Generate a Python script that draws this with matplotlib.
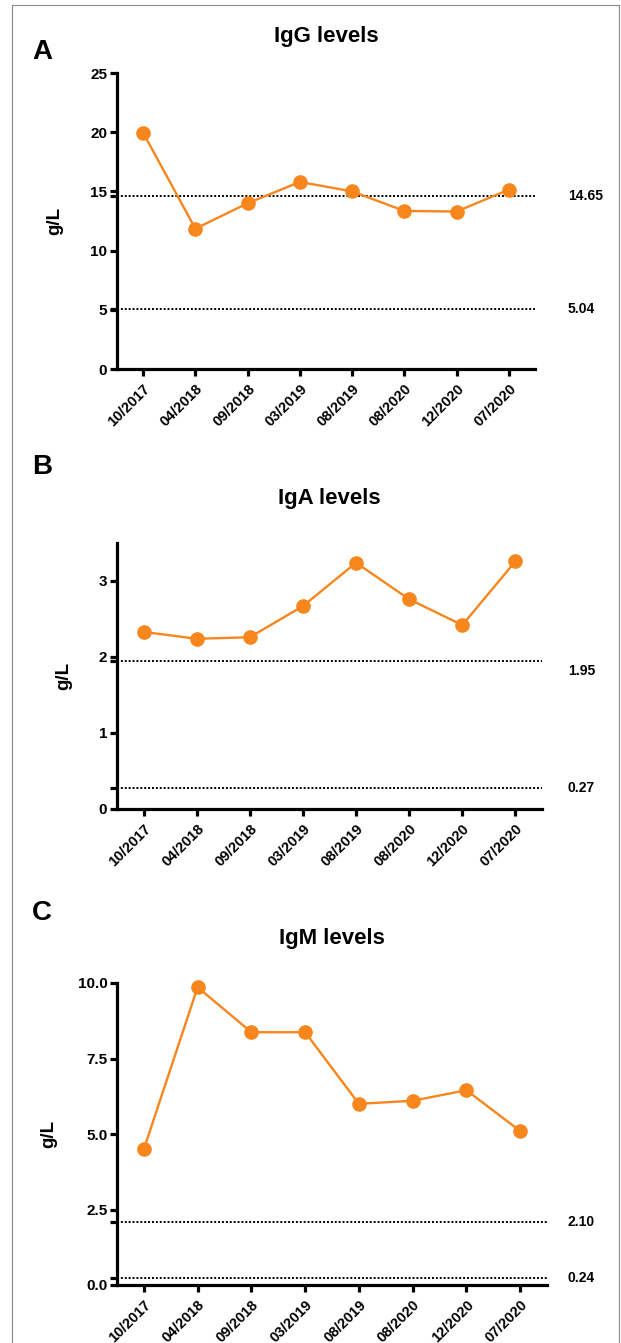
import numpy as np
import matplotlib
matplotlib.use("Agg")
import matplotlib.pyplot as plt
from matplotlib.lines import Line2D
from matplotlib.transforms import blended_transform_factory

plt.rcParams['font.family'] = ['Liberation Sans', 'DejaVu Sans']
plt.rcParams['font.weight'] = 'bold'

dates = ['10/2017', '04/2018', '09/2018', '03/2019', '08/2019', '08/2020', '12/2020', '07/2020']

igg = [19.95, 11.85, 14.0, 15.8, 15.0, 13.35, 13.3, 15.15]
iga = [2.33, 2.24, 2.26, 2.67, 3.24, 2.76, 2.42, 3.26]
igm = [4.5, 9.86, 8.37, 8.37, 6.0, 6.1, 6.45, 5.1]

igg_ref = [14.65, 5.04]
iga_ref = [1.95, 0.27]
igm_ref = [2.10, 0.24]

W, H = 621, 1343
orange = '#F7861C'

fig = plt.figure(figsize=(W / 100, H / 100), dpi=100)

# thin frame round the picture
for xs, ys in [([12, 619], [5, 5]), ([12, 12], [5, H]), ([619, 619], [5, H])]:
    fig.add_artist(Line2D([x / W for x in xs], [1 - y / H for y in ys],
                          color='#8a8a8a', lw=0.8))


def panel(box, values, refs, ylim, yticks, ytick_fmt, title, letter, letter_y,
          title_pad, ylabel_x, label_dy):
    left, right, top, bottom = box
    ax = fig.add_axes([left / W, 1 - bottom / H, (right - left) / W, (bottom - top) / H])
    x = np.arange(len(dates))
    ax.plot(x, values, '-o', color=orange, lw=1.7, markersize=9.5, zorder=3, clip_on=False)
    trans = blended_transform_factory(fig.transFigure, ax.transData)
    for r, dy in zip(refs, label_dy):
        ax.axhline(r, color='black', ls=(0, (1, 1)), lw=1.4, zorder=2)
        ax.text(568 / W, r + dy, '%.2f' % r, transform=trans, ha='left', va='center',
                fontsize=10, fontweight='bold')
    ax.set_xlim(-0.5, 7.5)
    ax.set_ylim(*ylim)
    ax.set_xticks(x)
    ax.set_xticklabels(dates, rotation=45, ha='right', rotation_mode='anchor',
                       fontsize=10.5, fontweight='bold')
    ax.set_yticks(yticks)
    ax.set_yticklabels([ytick_fmt % t for t in yticks], fontsize=11, fontweight='bold')
    ax.set_yticks(refs, minor=True)
    for s in ['top', 'right']:
        ax.spines[s].set_visible(False)
    for s in ['left', 'bottom']:
        ax.spines[s].set_linewidth(2.3)
    ax.tick_params(which='both', direction='out', length=5, width=2.3)
    ax.tick_params(axis='x', pad=4)
    ax.tick_params(axis='y', pad=2)
    ax.set_title(title, fontsize=16, fontweight='bold', pad=title_pad)
    ax.set_ylabel('g/L', fontsize=13.5, fontweight='bold')
    ax.yaxis.set_label_coords((ylabel_x - left) / (right - left), 0.5)
    fig.text(32 / W, 1 - letter_y / H, letter, fontsize=20, fontweight='bold',
             ha='left', va='center')
    return ax


panel((117, 535, 73, 369), igg, igg_ref, (0, 25), [0, 5, 10, 15, 20, 25], '%d',
      'IgG levels', 'A', 52, 22, 63, [0, 0])
panel((117, 542, 543, 809), iga, iga_ref, (0, 3.5), [0, 1, 2, 3], '%d',
      'IgA levels', 'B', 467, 28, 72, [-0.14, 0])
panel((117, 547, 983, 1285), igm, igm_ref, (0, 10), [0, 2.5, 5, 7.5, 10], '%.1f',
      'IgM levels', 'C', 913, 28, 57, [0, 0])

fig.savefig('out.png', dpi=100)
